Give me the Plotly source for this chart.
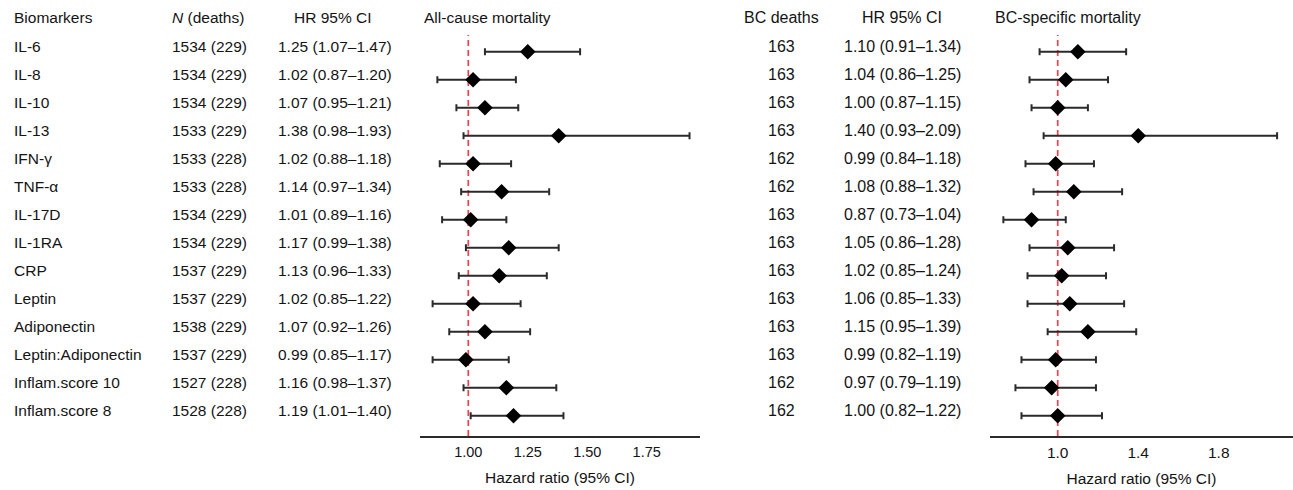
import plotly.graph_objects as go

# ---------------- data ----------------
biomarkers = ["IL-6", "IL-8", "IL-10", "IL-13", "IFN-γ", "TNF-α", "IL-17D", "IL-1RA",
              "CRP", "Leptin", "Adiponectin", "Leptin:Adiponectin",
              "Inflam.score 10", "Inflam.score 8"]
n_total = [1534, 1534, 1534, 1533, 1533, 1533, 1534, 1534, 1537, 1537, 1538, 1537, 1527, 1528]
n_deaths = [229, 229, 229, 229, 228, 228, 229, 229, 229, 229, 229, 229, 228, 228]
all_hr = [1.25, 1.02, 1.07, 1.38, 1.02, 1.14, 1.01, 1.17, 1.13, 1.02, 1.07, 0.99, 1.16, 1.19]
all_lo = [1.07, 0.87, 0.95, 0.98, 0.88, 0.97, 0.89, 0.99, 0.96, 0.85, 0.92, 0.85, 0.98, 1.01]
all_hi = [1.47, 1.20, 1.21, 1.93, 1.18, 1.34, 1.16, 1.38, 1.33, 1.22, 1.26, 1.17, 1.37, 1.40]
bc_deaths = [163, 163, 163, 163, 162, 162, 163, 163, 163, 163, 163, 163, 162, 162]
bc_hr = [1.10, 1.04, 1.00, 1.40, 0.99, 1.08, 0.87, 1.05, 1.02, 1.06, 1.15, 0.99, 0.97, 1.00]
bc_lo = [0.91, 0.86, 0.87, 0.93, 0.84, 0.88, 0.73, 0.86, 0.85, 0.85, 0.95, 0.82, 0.79, 0.82]
bc_hi = [1.34, 1.25, 1.15, 2.09, 1.18, 1.32, 1.04, 1.28, 1.24, 1.33, 1.39, 1.19, 1.19, 1.22]

all_ticks = [1.00, 1.25, 1.50, 1.75]
all_ticktext = ["1.00", "1.25", "1.50", "1.75"]
bc_ticks = [1.0, 1.4, 1.8]
bc_ticktext = ["1.0", "1.4", "1.8"]

# ---------------- layout constants ----------------
W, H = 1293, 490
FONT = "Liberation Sans, Arial, Helvetica, sans-serif"
TXT = "#141414"
LINE = "#2b2b2b"
rows = list(range(len(biomarkers)))


def px(x):
    return x / W


fig = go.Figure()

err_style = dict(type="data", symmetric=False, color=LINE, thickness=2, width=3.5)
mk = dict(symbol="diamond", size=12, color="black", line=dict(width=0))

fig.add_trace(go.Scatter(
    x=all_hr, y=rows, mode="markers", marker=mk, xaxis="x", yaxis="y",
    error_x=dict(array=[h - m for h, m in zip(all_hi, all_hr)],
                 arrayminus=[m - l for m, l in zip(all_hr, all_lo)], **err_style),
    showlegend=False, hoverinfo="skip"))
fig.add_trace(go.Scatter(
    x=bc_hr, y=rows, mode="markers", marker=mk, xaxis="x2", yaxis="y",
    error_x=dict(array=[h - m for h, m in zip(bc_hi, bc_hr)],
                 arrayminus=[m - l for m, l in zip(bc_hr, bc_lo)], **err_style),
    showlegend=False, hoverinfo="skip"))

# reference lines at HR = 1
for xr in ["x", "x2"]:
    fig.add_shape(type="line", xref=xr, yref="paper", x0=1, x1=1, y0=0, y1=1 - 35 / 436,
                  line=dict(color="#f2404f", width=1.7, dash="6px,4px"), layer="below")

ann = []
TS = 5.0  # text sits a bit above the marker row
hdr_y = 1 - 18 / 436


def add(text, x, y, anchor, size, yref="y", yshift=TS):
    ann.append(dict(text=text, x=px(x), xref="paper", y=y, yref=yref, xanchor=anchor,
                    yanchor="middle", showarrow=False, yshift=yshift,
                    font=dict(family=FONT, size=size, color=TXT)))


# headers
add("Biomarkers", 12, hdr_y, "left", 15.5, yref="paper", yshift=0)
add("<i>N</i> (deaths)", 170, hdr_y, "left", 15.5, yref="paper", yshift=0)
add("HR 95% CI", 332.5, hdr_y, "center", 15.5, yref="paper", yshift=0)
add("All-cause mortality", 422, hdr_y, "left", 15.5, yref="paper", yshift=0)
add("BC deaths", 781, hdr_y, "center", 16, yref="paper", yshift=0)
add("HR 95% CI", 902.5, hdr_y, "center", 16, yref="paper", yshift=0)
add("BC-specific mortality", 993, hdr_y, "left", 16, yref="paper", yshift=0)

for i in rows:
    add(biomarkers[i], 12, i, "left", 15.5)
    add(f"{n_total[i]} ({n_deaths[i]})", 170, i, "left", 15.5)
    add(f"{all_hr[i]:.2f} ({all_lo[i]:.2f}–{all_hi[i]:.2f})", 334.5, i, "center", 15.5)
    add(f"{bc_deaths[i]}", 781.5, i, "center", 16)
    add(f"{bc_hr[i]:.2f} ({bc_lo[i]:.2f}–{bc_hi[i]:.2f})", 902.5, i, "center", 16)

axis_common = dict(showline=True, linecolor=LINE, linewidth=1.6, ticks="", showgrid=False,
                   zeroline=False, anchor="y", fixedrange=True, ticklabelstandoff=2,
                   title=dict(text="Hazard ratio (95% CI)", standoff=13,
                              font=dict(family=FONT, size=15.5, color=TXT)))

fig.update_layout(
    width=W, height=H,
    margin=dict(l=0, r=0, t=0, b=54),
    paper_bgcolor="white", plot_bgcolor="white",
    font=dict(family=FONT, color=TXT),
    xaxis=dict(domain=[px(420), px(700)], range=[0.797, 1.974], tickvals=all_ticks,
               ticktext=all_ticktext, tickfont=dict(family=FONT, size=14.5, color=TXT),
               **axis_common),
    xaxis2=dict(domain=[px(990), 1.0], range=[0.6636, 2.169], tickvals=bc_ticks,
                ticktext=bc_ticktext, tickfont=dict(family=FONT, size=15.5, color=TXT),
                **axis_common),
    yaxis=dict(range=[13.725, -1.846], visible=False, fixedrange=True),
    annotations=ann,
)

fig.write_html("out.html", config={"displayModeBar": False, "staticPlot": True},
               post_script="document.body.style.margin='0';document.body.style.padding='0';")
